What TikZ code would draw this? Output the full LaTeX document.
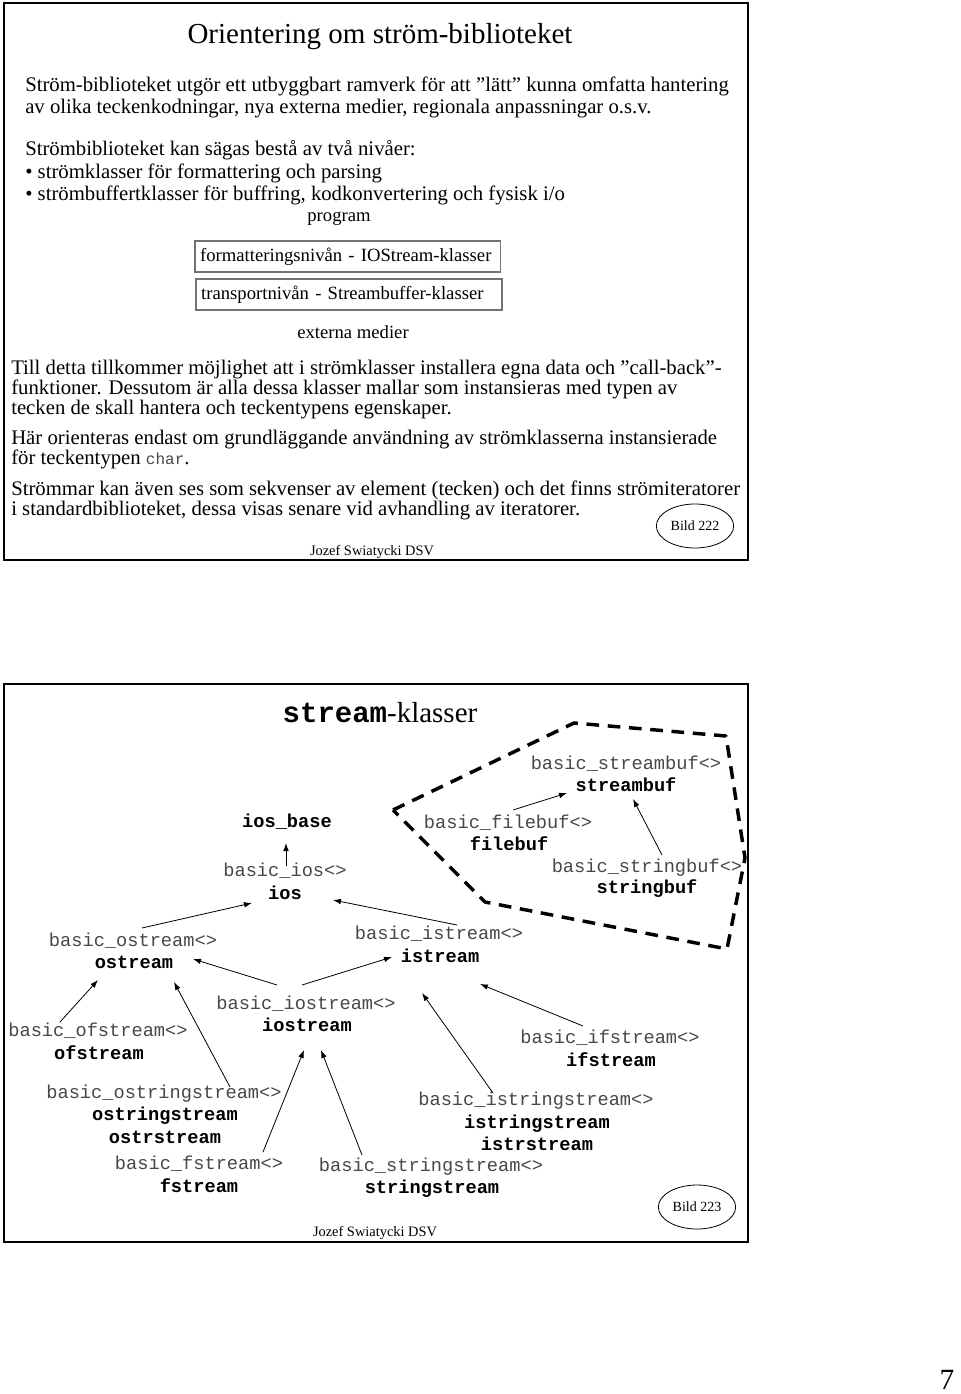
\documentclass[tikz,border=0pt]{standalone}
\usepackage{fontspec}
\setmainfont{Liberation Serif}
\setmonofont{Liberation Mono}
\usetikzlibrary{arrows.meta,shapes.geometric}
\definecolor{tmplgray}{RGB}{72,72,72}

\begin{document}
\begin{tikzpicture}[x=0.75pt,y=-0.75pt,
  every node/.style={inner sep=0pt},
  slide/.style={line width=2.2pt},
  body/.style={anchor=base west,align=left,font=\fontsize{15.55}{#1}\selectfont},
  small/.style={anchor=base,font=\fontsize{14}{14}\selectfont},
  level/.style={draw=black!55,line width=0.8pt,align=left,inner xsep=3.9pt,minimum height=23.25pt,font=\fontsize{14}{14}\selectfont},
  tmpl/.style={anchor=base,text=tmplgray,font=\fontsize{14}{14}\selectfont\ttfamily},
  cls/.style={anchor=base,font=\fontsize{14}{14}\selectfont\ttfamily\bfseries},
  bild/.style={draw,ellipse,line width=0.6pt,minimum width=58pt,minimum height=33pt,font=\fontsize{10.5}{10.5}\selectfont},
  author/.style={anchor=base,font=\fontsize{10.8}{10.8}\selectfont},
  bufzone/.style={line width=2.6pt,dash pattern=on 9.5pt off 6.5pt,line join=round},
  arr/.style={-{Latex[length=6pt,width=4.2pt]},line width=0.6pt}]
\fill[white] (0,0) rectangle (960,1394);
\useasboundingbox (0,0) rectangle (960,1394);

\draw[slide] (4,3) rectangle (748,560);
\node[anchor=base,font=\fontsize{21.75}{22}\selectfont] (title1) at (380,44) {Orientering om ström-biblioteket};
\node[body=16.5pt] (para1) at (25,114) {Ström-biblioteket utgör ett utbyggbart ramverk för att ”lätt” kunna omfatta hantering\\av olika teckenkodningar, nya externa medier, regionala anpassningar o.s.v.};
\node[body=16.9pt] (para2) at (25,201) {Strömbiblioteket kan sägas bestå av två nivåer:\\• strömklasser för formattering och parsing\\• strömbuffertklasser för buffring, kodkonvertering och fysisk i/o};
\node[small] (program) at (339,222) {program};
\node[level,text width=221pt] (fmtlevel) at (347.5,256.5) {formatteringsnivån - IOStream-klasser};
\node[level,text width=221.7pt] (trplevel) at (349,294.5) {transportnivån - Streambuffer-klasser};
\node[small] (media) at (353,338) {externa medier};
\node[body=15pt] (para3) at (11,414) {Till detta tillkommer möjlighet att i strömklasser installera egna data och ”call-back”-\\funktioner. Dessutom är alla dessa klasser mallar som instansieras med typen av\\tecken de skall hantera och teckentypens egenskaper.};
\node[body=15pt] (para4) at (11,464) {Här orienteras endast om grundläggande användning av strömklasserna instansierade\\för teckentypen {\fontsize{12}{12}\selectfont\ttfamily\color{tmplgray}char}.};
\node[body=15pt] (para5) at (11,515) {Strömmar kan även ses som sekvenser av element (tecken) och det finns strömiteratorer\\i standardbiblioteket, dessa visas senare vid avhandling av iteratorer.};
\node[bild] (bild1) at (695,526) {Bild 222};
\node[author] (author1) at (372,555) {Jozef Swiatycki DSV};

\draw[slide] (4,684) rectangle (748,1242);
\node[anchor=base,font=\fontsize{21.75}{22}\selectfont] (title2) at (380,722) {{\ttfamily\bfseries stream}-klasser};
\draw[bufzone] (393,810) -- (574,723) -- (726,736) -- (745,858) -- (727,949) -- (485,902) -- cycle;

\node[tmpl] (bsb) at (626,769) {basic\_streambuf<>};
\node[cls] (sb) at (626,791) {streambuf};
\node[cls] (iosb) at (287,827) {ios\_base};
\node[tmpl] (bfb) at (508,828) {basic\_filebuf<>};
\node[cls] (fb) at (509,850) {filebuf};
\node[tmpl] (bios) at (285,876) {basic\_ios<>};
\node[cls] (ios) at (285,899) {ios};
\node[tmpl] (bstb) at (647,872) {basic\_stringbuf<>};
\node[cls] (stb) at (647,893) {stringbuf};
\node[tmpl] (bos) at (133,946) {basic\_ostream<>};
\node[cls] (os) at (134,968) {ostream};
\node[tmpl] (bis) at (439,939) {basic\_istream<>};
\node[cls] (is) at (440,962) {istream};
\node[tmpl] (biost) at (306,1009) {basic\_iostream<>};
\node[cls] (iost) at (307,1031) {iostream};
\node[tmpl] (bofs) at (98,1036) {basic\_ofstream<>};
\node[cls] (ofs) at (99,1059) {ofstream};
\node[tmpl] (bifs) at (610,1043) {basic\_ifstream<>};
\node[cls] (ifs) at (611,1066) {ifstream};
\node[tmpl] (boss) at (164,1098) {basic\_ostringstream<>};
\node[cls] (oss) at (165,1120) {ostringstream};
\node[cls] (ostrs) at (165,1143) {ostrstream};
\node[tmpl] (biss) at (536,1105) {basic\_istringstream<>};
\node[cls] (iss) at (537,1128) {istringstream};
\node[cls] (istrs) at (537,1150) {istrstream};
\node[tmpl] (bfs) at (199,1169) {basic\_fstream<>};
\node[cls] (fs) at (199,1192) {fstream};
\node[tmpl] (bss) at (431,1171) {basic\_stringstream<>};
\node[cls] (ss) at (432,1193) {stringstream};

\draw[arr] ([shift={(9,-18)}]bos.base) -- ([shift={(-33,4)}]ios.base);
\draw[arr] ([shift={(18,-14)}]bis.base) -- ([shift={(48,1)}]ios.base);
\draw[arr] ([shift={(1,-10)}]bios.base) -- ([shift={(-1,16)}]iosb.base);
\draw[arr] ([shift={(-29,-24)}]biost.base) -- ([shift={(59,-9)}]os.base);
\draw[arr] ([shift={(-4,-24)}]biost.base) -- ([shift={(-48,-5)}]is.base);
\draw[arr] ([shift={(-38,-14)}]bofs.base) -- ([shift={(-36,12)}]os.base);
\draw[arr] ([shift={(66,-11)}]boss.base) -- ([shift={(40,14)}]os.base);
\draw[arr] ([shift={(64,-17)}]bfs.base) -- ([shift={(-3,19)}]iost.base);
\draw[arr] ([shift={(-69,-16)}]bss.base) -- ([shift={(14,19)}]iost.base);
\draw[arr] ([shift={(-43,-12)}]biss.base) -- ([shift={(-18,31)}]is.base);
\draw[arr] ([shift={(-27,-17)}]bifs.base) -- ([shift={(40,22)}]is.base);
\draw[arr] ([shift={(5,-18)}]bfb.base) -- ([shift={(-59,2)}]sb.base);
\draw[arr] ([shift={(15,-17)}]bstb.base) -- ([shift={(7,8)}]sb.base);

\node[bild] (bild2) at (697,1207) {Bild 223};
\node[author] (author2) at (375,1236) {Jozef Swiatycki DSV};

\node[anchor=base,font=\fontsize{22}{22}\selectfont] (pageno) at (947,1389) {7};
\end{tikzpicture}
\end{document}
